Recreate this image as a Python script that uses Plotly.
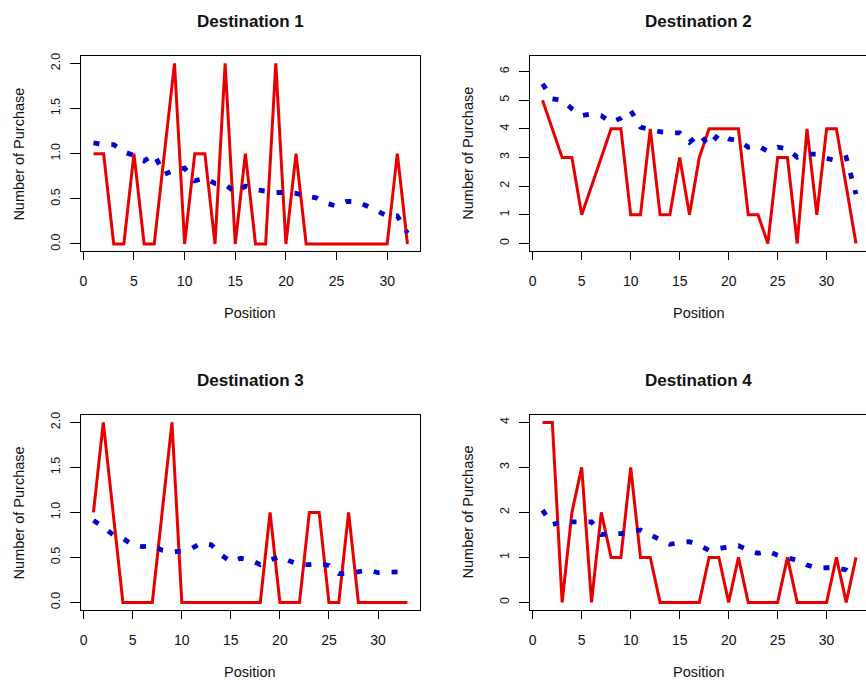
import plotly.graph_objects as go

titles = ["Destination 1", "Destination 2", "Destination 3", "Destination 4"]

d1_red = [1, 1, 0, 0, 1, 0, 0, 1, 2, 0, 1, 1, 0, 2, 0, 1, 0, 0, 2, 0, 1, 0,
          0, 0, 0, 0, 0, 0, 0, 0, 1, 0]
d1_blue = [1.12, 1.10, 1.10, 1.02, 0.98, 0.92, 0.99, 0.77, 0.82, 0.84, 0.70, 0.73,
           0.67, 0.66, 0.57, 0.64, 0.60, 0.58, 0.57, 0.57, 0.56, 0.53, 0.51, 0.45,
           0.42, 0.47, 0.47, 0.42, 0.36, 0.31, 0.31, 0.12]

d2_red = [5, 4, 3, 3, 1, 2, 3, 4, 4, 1, 1, 4, 1, 1, 3, 1, 3, 4, 4, 4, 4, 1, 1, 0,
          3, 3, 0, 4, 1, 4, 4, 2, 0]
d2_blue = [5.57, 5.05, 5.00, 4.70, 4.46, 4.52, 4.46, 4.23, 4.37, 4.64, 4.06, 3.97,
           3.90, 3.86, 3.86, 3.53, 3.82, 3.41, 3.82, 3.65, 3.59, 3.36, 3.41, 3.21,
           3.36, 3.30, 3.01, 3.12, 3.12, 2.97, 2.89, 3.00, 1.72]

d3_red = [1, 2, 1, 0, 0, 0, 0, 1, 2, 0, 0, 0, 0, 0, 0, 0, 0, 0, 1, 0, 0, 0, 1, 1,
          0, 0, 1, 0, 0, 0, 0, 0, 0]
d3_blue = [0.91, 0.84, 0.75, 0.71, 0.64, 0.62, 0.63, 0.58, 0.56, 0.57, 0.60, 0.66,
           0.64, 0.53, 0.45, 0.49, 0.47, 0.42, 0.47, 0.51, 0.46, 0.42, 0.42, 0.43,
           0.41, 0.32, 0.32, 0.34, 0.36, 0.33, 0.33, 0.34, 0.31]

d4_red = [4, 4, 0, 2, 3, 0, 2, 1, 1, 3, 1, 1, 0, 0, 0, 0, 0, 1, 1, 0, 1, 0, 0, 0,
          0, 1, 0, 0, 0, 0, 1, 0, 1]
d4_blue = [2.05, 1.73, 1.79, 1.79, 1.78, 1.79, 1.51, 1.51, 1.53, 1.57, 1.61, 1.50,
           1.38, 1.29, 1.33, 1.35, 1.27, 1.16, 1.20, 1.24, 1.26, 1.16, 1.09, 1.14,
           1.05, 0.99, 0.94, 0.83, 0.76, 0.77, 0.77, 0.72, 0.54]

x_ticks = [0, 5, 10, 15, 20, 25, 30]
y_ticks_1 = [0, 0.5, 1.0, 1.5, 2.0]
y_ticks_2 = [0, 1, 2, 3, 4, 5, 6]
y_ticks_3 = [0, 0.5, 1.0, 1.5, 2.0]
y_ticks_4 = [0, 1, 2, 3, 4]

x_label = "Position"
y_label = "Number of Purchase"

W, H = 866, 682
FONT = "Liberation Sans, Arial, sans-serif"
RED = "#E80000"
BLUE = "#0000D0"

panels = [
    (d1_red, d1_blue, y_ticks_1, ".1f", [-0.24, 33.24], [-0.08, 2.08], 80, 419.5, 53.3, 249.3, True),
    (d2_red, d2_blue, y_ticks_2, "d", [-0.28, 34.02], [-0.27, 6.54], 529.6, 866, 53.3, 249.3, False),
    (d3_red, d3_blue, y_ticks_3, ".1f", [-0.28, 34.28], [-0.08, 2.08], 80, 419.5, 414, 609.3, True),
    (d4_red, d4_blue, y_ticks_4, "d", [-0.28, 34.02], [-0.16, 4.16], 529.6, 866, 414, 609.3, False),
]

fig = go.Figure()
layout = dict(
    width=W, height=H,
    margin=dict(l=0, r=0, t=0, b=0),
    paper_bgcolor="white", plot_bgcolor="white",
    showlegend=False,
    font=dict(family=FONT, color="#111111"),
)
annotations = []

for i, (red, blue, yt, yfmt, xr, yr, x0, x1, y0, y1, mirror_y) in enumerate(panels):
    n = i + 1
    xs = list(range(1, len(red) + 1))
    xa = "x" if n == 1 else f"x{n}"
    ya = "y" if n == 1 else f"y{n}"
    fig.add_trace(go.Scatter(x=xs, y=red, xaxis=xa, yaxis=ya, mode="lines",
                             line=dict(color=RED, width=3), hoverinfo="skip"))
    fig.add_trace(go.Scatter(x=xs, y=blue, xaxis=xa, yaxis=ya, mode="lines",
                             line=dict(color=BLUE, width=4.8, dash="6px,12px"),
                             hoverinfo="skip"))
    xkey = "xaxis" if n == 1 else f"xaxis{n}"
    ykey = "yaxis" if n == 1 else f"yaxis{n}"
    layout[xkey] = dict(
        domain=[x0 / W, min(x1 / W, 1.0)], range=xr, anchor=ya,
        showgrid=False, zeroline=False, showline=True, linecolor="black",
        linewidth=1.3, mirror=True, ticks="outside", ticklen=8, tickwidth=1.3,
        tickcolor="black", tickvals=x_ticks, ticklabelstandoff=9,
        tickfont=dict(family=FONT, size=14, color="#111111"), fixedrange=True,
    )
    layout[ykey] = dict(
        domain=[1 - y1 / H, 1 - y0 / H], range=yr, anchor=xa,
        showgrid=False, zeroline=False, showline=True, linecolor="black",
        linewidth=1.3, mirror=mirror_y, ticks="outside", ticklen=10, tickwidth=1.3,
        tickcolor="black", tickvals=yt, tickformat=yfmt, tickangle=-90,
        ticklabelstandoff=5,
        tickfont=dict(family=FONT, size=12.5, color="#111111"), fixedrange=True,
    )
    cx = ((x0 + x1) / 2) if mirror_y else 698.7
    annotations.append(dict(
        text=f"<b>{titles[i]}</b>", x=cx / W, y=1 - (y0 - 34.6) / H,
        xref="paper", yref="paper", xanchor="center", yanchor="middle",
        showarrow=False, font=dict(family=FONT, size=17, color="#111111")))
    annotations.append(dict(
        text=x_label, x=cx / W, y=1 - (y1 + 62.5) / H,
        xref="paper", yref="paper", xanchor="center", yanchor="middle",
        showarrow=False, font=dict(family=FONT, size=14.5, color="#111111")))
    annotations.append(dict(
        text=y_label, x=(x0 - 62) / W, y=1 - ((y0 + y1) / 2) / H,
        xref="paper", yref="paper", xanchor="center", yanchor="middle",
        textangle=-90, showarrow=False,
        font=dict(family=FONT, size=14.5, color="#111111")))

layout["annotations"] = annotations
fig.update_layout(**layout)
fig.write_html("out.html", config={"displayModeBar": False})
